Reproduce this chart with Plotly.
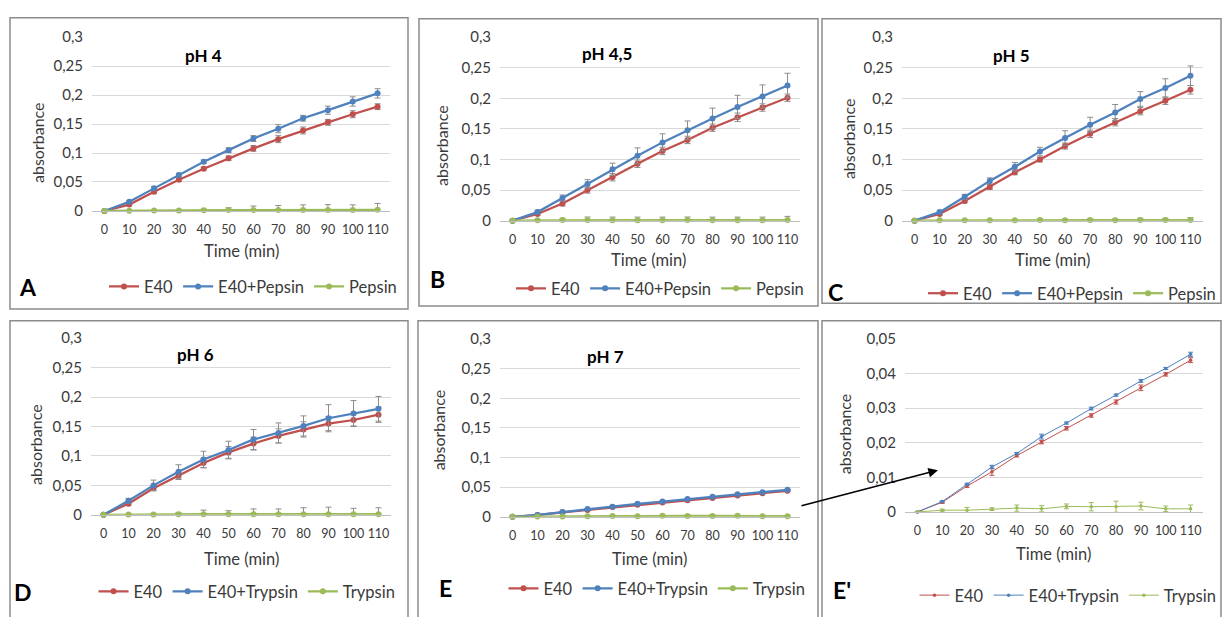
import plotly.graph_objects as go

# ---------------- data ----------------
time = [0, 10, 20, 30, 40, 50, 60, 70, 80, 90, 100, 110]
x_ticktext = ["0", "10", "20", "30", "40", "50", "60", "70", "80", "90", "100", "110"]

y_tickvals_main = [0, 0.05, 0.1, 0.15, 0.2, 0.25, 0.3]
y_ticktext_main = ["0", "0,05", "0,1", "0,15", "0,2", "0,25", "0,3"]
y_tickvals_zoom = [0, 0.01, 0.02, 0.03, 0.04, 0.05]
y_ticktext_zoom = ["0", "0,01", "0,02", "0,03", "0,04", "0,05"]

# pH 4
A_e40 = [0, 0.011, 0.033, 0.054, 0.073, 0.091, 0.108, 0.124, 0.139, 0.153, 0.167, 0.180]
A_e40_err = [0, 0.002, 0.003, 0.003, 0.003, 0.004, 0.005, 0.006, 0.006, 0.005, 0.006, 0.005]
A_enzmix = [0, 0.016, 0.039, 0.062, 0.085, 0.105, 0.125, 0.142, 0.160, 0.174, 0.189, 0.203]
A_enzmix_err = [0, 0.002, 0.003, 0.003, 0.003, 0.004, 0.005, 0.007, 0.005, 0.007, 0.008, 0.008]
A_enz = [0, 0.0005, 0.0008, 0.001, 0.0012, 0.0015, 0.0015, 0.0015, 0.0015, 0.0018, 0.0015, 0.002]
A_enz_err = [0, 0, 0.001, 0.001, 0.002, 0.004, 0.007, 0.008, 0.009, 0.009, 0.009, 0.011]

# pH 4,5
B_e40 = [0, 0.011, 0.028, 0.050, 0.071, 0.093, 0.114, 0.132, 0.152, 0.169, 0.185, 0.201]
B_e40_err = [0, 0.002, 0.004, 0.005, 0.006, 0.006, 0.006, 0.006, 0.006, 0.007, 0.006, 0.006]
B_enzmix = [0, 0.014, 0.037, 0.060, 0.084, 0.106, 0.128, 0.148, 0.167, 0.186, 0.203, 0.221]
B_enzmix_err = [0, 0.003, 0.005, 0.007, 0.010, 0.013, 0.014, 0.015, 0.017, 0.019, 0.019, 0.020]
B_enz = [0, 0.0005, 0.001, 0.001, 0.0008, 0.0008, 0.0008, 0.001, 0.0008, 0.0008, 0.0008, 0.001]
B_enz_err = [0, 0.001, 0.003, 0.005, 0.005, 0.005, 0.005, 0.005, 0.005, 0.005, 0.005, 0.006]

# pH 5
C_e40 = [0, 0.011, 0.032, 0.055, 0.079, 0.100, 0.122, 0.142, 0.161, 0.179, 0.196, 0.214]
C_e40_err = [0, 0.002, 0.003, 0.004, 0.004, 0.004, 0.005, 0.006, 0.006, 0.006, 0.006, 0.007]
C_enzmix = [0, 0.014, 0.039, 0.065, 0.088, 0.113, 0.135, 0.157, 0.177, 0.199, 0.217, 0.237]
C_enzmix_err = [0, 0.002, 0.004, 0.005, 0.007, 0.007, 0.012, 0.012, 0.013, 0.012, 0.015, 0.016]
C_enz = [0, 0.0005, 0.0005, 0.0005, 0.0005, 0.001, 0.0005, 0.001, 0.0008, 0.001, 0.001, 0.001]
C_enz_err = [0, 0, 0.001, 0.001, 0.001, 0.002, 0.002, 0.002, 0.002, 0.003, 0.003, 0.004]

# pH 6
D_e40 = [0, 0.019, 0.045, 0.066, 0.088, 0.106, 0.121, 0.134, 0.145, 0.155, 0.161, 0.170]
D_e40_err = [0, 0.003, 0.004, 0.006, 0.008, 0.010, 0.011, 0.012, 0.013, 0.012, 0.010, 0.013]
D_enzmix = [0, 0.024, 0.050, 0.073, 0.094, 0.110, 0.128, 0.139, 0.151, 0.164, 0.172, 0.180]
D_enzmix_err = [0, 0.004, 0.009, 0.012, 0.014, 0.015, 0.017, 0.017, 0.017, 0.023, 0.022, 0.021]
D_enz = [0, 0.0005, 0.0005, 0.001, 0.001, 0.001, 0.001, 0.001, 0.001, 0.001, 0.001, 0.001]
D_enz_err = [0, 0, 0.001, 0.003, 0.007, 0.006, 0.009, 0.009, 0.011, 0.012, 0.010, 0.011]

# pH 7 (also shown enlarged in E')
E_e40 = [0, 0.0028, 0.0075, 0.0116, 0.0163, 0.0202, 0.0242, 0.0279, 0.0318, 0.0359, 0.0398, 0.0439]
E_e40_err = [0, 0.0003, 0.0004, 0.0010, 0.0004, 0.0005, 0.0005, 0.0005, 0.0006, 0.0008, 0.0005, 0.0007]
E_enzmix = [0, 0.0030, 0.0080, 0.0130, 0.0169, 0.0218, 0.0257, 0.0299, 0.0338, 0.0379, 0.0415, 0.0456]
E_enzmix_err = [0, 0.0002, 0.0003, 0.0005, 0.0003, 0.0007, 0.0003, 0.0004, 0.0003, 0.0004, 0.0003, 0.0006]
E_enz = [0, 0.0005, 0.0005, 0.0008, 0.0011, 0.0009, 0.0016, 0.0015, 0.0015, 0.0017, 0.0009, 0.0009]
E_enz_err = [0, 0.0003, 0.0008, 0.0004, 0.0009, 0.0009, 0.0007, 0.0012, 0.0016, 0.0011, 0.0008, 0.0011]

# ---------------- styling / layout ----------------
W, H = 1224, 617
RED, BLUE, GREEN = "#C0504D", "#4F81BD", "#9BBB59"
ERRC = "#8C8C8C"
TXT = "#3A3A3A"
FONT = "Lato, Carlito, 'Liberation Sans', sans-serif"


def fx(p):
    return p / W


def fy(p):
    return 1 - p / H


panels = [
    dict(letter="A", title="pH 4", enz="Pepsin",
         data=(A_e40, A_e40_err, A_enzmix, A_enzmix_err, A_enz, A_enz_err),
         plot=(92, 390, 28, 207), box=(10, 408, 8, 308), zoom=False,
         title_pos=(203, 47), xt=(241, 248), yt=(37, 137), leg=(253, 285), let=(28, 285)),
    dict(letter="B", title="pH 4,5", enz="Pepsin",
         data=(B_e40, B_e40_err, B_enzmix, B_enzmix_err, B_enz, B_enz_err),
         plot=(500, 800, 28, 217), box=(419, 818, 9, 305), zoom=False,
         title_pos=(607, 45), xt=(648, 257), yt=(442, 140), leg=(660, 287), let=(437, 277)),
    dict(letter="C", title="pH 5", enz="Pepsin",
         data=(C_e40, C_e40_err, C_enzmix, C_enzmix_err, C_enz, C_enz_err),
         plot=(902, 1203, 28, 217), box=(822, 1221, 9, 302), zoom=False,
         title_pos=(1012, 47), xt=(1052, 258), yt=(848, 133), leg=(1072, 292), let=(835, 290)),
    dict(letter="D", title="pH 6", enz="Trypsin",
         data=(D_e40, D_e40_err, D_enzmix, D_enzmix_err, D_enz, D_enz_err),
         plot=(91, 391, 338, 520), box=(10, 408, 320, 630), zoom=False,
         title_pos=(195, 355), xt=(241, 565), yt=(36, 448), leg=(247, 599), let=(23, 599)),
    dict(letter="E", title="pH 7", enz="Trypsin",
         data=(E_e40, E_e40_err, E_enzmix, E_enzmix_err, E_enz, E_enz_err),
         plot=(500, 800, 339, 522), box=(418, 818, 320, 630), zoom=False,
         title_pos=(605, 357), xt=(649, 565), yt=(438, 433), leg=(657, 596), let=(445, 595)),
    dict(letter="E'", title=None, enz="Trypsin",
         data=(E_e40, E_e40_err, E_enzmix, E_enzmix_err, E_enz, E_enz_err),
         plot=(905, 1203, 339, 517), box=(822, 1221, 320, 630), zoom=True,
         title_pos=None, xt=(1053, 560), yt=(844, 437), leg=(1068, 603), let=(842, 597)),
]

fig = go.Figure()
layout = dict(
    width=W, height=H, margin=dict(l=0, r=0, t=0, b=0),
    paper_bgcolor="white", plot_bgcolor="white",
    font=dict(family=FONT, color=TXT), showlegend=True,
    shapes=[], annotations=[],
)

for i, p in enumerate(panels, start=1):
    sfx = "" if i == 1 else str(i)
    xa, ya = "x" + sfx, "y" + sfx
    lg = "legend" + sfx
    e40, e40e, mix, mixe, enz, enze = p["data"]
    zoom = p["zoom"]
    lw = 1 if zoom else 2.25
    ms = 3.5 if zoom else 6
    names = ["E40", "E40+" + p["enz"], p["enz"]]
    cols = [RED, BLUE, GREEN]
    ys = [e40, mix, enz]
    errs = [e40e, mixe, enze]
    for k in range(3):
        if zoom:
            err = dict(type="data", array=errs[k], color=cols[k], thickness=1, width=2.5)
        elif k == 2:
            err = dict(type="data", symmetric=False, array=errs[k],
                       arrayminus=[0] * len(errs[k]), color=ERRC, thickness=1, width=3)
        else:
            err = dict(type="data", array=errs[k], color=ERRC, thickness=1, width=3)
        fig.add_trace(go.Scatter(
            x=time, y=ys[k], name=names[k], mode="lines+markers",
            line=dict(color=cols[k], width=lw),
            marker=dict(color=cols[k], size=ms, symbol="circle"),
            error_y=err, xaxis=xa, yaxis=ya, legend=lg, cliponaxis=False,
        ))

    x0, x1, y0, y1 = p["plot"]
    layout["xaxis" + sfx] = dict(
        domain=[fx(x0), fx(x1)], range=[-5, 115], anchor=ya,
        tickvals=time, ticktext=x_ticktext, showgrid=False, zeroline=False,
        showline=True, linecolor="#BFBFBF", linewidth=1, ticks="", tickangle=0,
        tickfont=dict(size=12.5, color=TXT, family=FONT), ticklabelstandoff=7,
        fixedrange=True,
    )
    layout["yaxis" + sfx] = dict(
        domain=[fy(y1), fy(y0)], range=[0, 0.05] if zoom else [0, 0.3], anchor=xa,
        tickvals=y_tickvals_zoom if zoom else y_tickvals_main,
        ticktext=y_ticktext_zoom if zoom else y_ticktext_main,
        showgrid=True, gridcolor="#D9D9D9", gridwidth=1, zeroline=False,
        showline=False, ticks="", tickfont=dict(size=15, color=TXT, family=FONT),
        ticklabelstandoff=8, fixedrange=True,
    )
    cx, cy = p["leg"]
    layout[lg] = dict(
        orientation="h", x=fx(cx), xanchor="center", y=fy(cy), yanchor="middle",
        bgcolor="rgba(0,0,0,0)", borderwidth=0, font=dict(size=16.5, color=TXT, family=FONT),
        itemwidth=30, tracegroupgap=0,
    )
    bx0, bx1, by0, by1 = p["box"]
    layout["shapes"].append(dict(
        type="rect", xref="paper", yref="paper",
        x0=fx(bx0), x1=fx(bx1), y0=fy(by1), y1=fy(by0),
        line=dict(color="#8C8C8C", width=1.5), fillcolor="rgba(0,0,0,0)", layer="below",
    ))
    if p["title"]:
        tx, ty = p["title_pos"]
        layout["annotations"].append(dict(
            text="<b>" + p["title"] + "</b>", xref="paper", yref="paper",
            x=fx(tx), y=fy(ty), xanchor="center", yanchor="middle", showarrow=False,
            font=dict(size=17, color="#000000", family=FONT),
        ))
    tx, ty = p["xt"]
    layout["annotations"].append(dict(
        text="Time (min)", xref="paper", yref="paper", x=fx(tx), y=fy(ty),
        xanchor="center", yanchor="middle", showarrow=False,
        font=dict(size=16.5, color=TXT, family=FONT),
    ))
    tx, ty = p["yt"]
    layout["annotations"].append(dict(
        text="absorbance", xref="paper", yref="paper", x=fx(tx), y=fy(ty),
        xanchor="center", yanchor="middle", showarrow=False, textangle=-90,
        font=dict(size=16, color=TXT, family=FONT),
    ))
    tx, ty = p["let"]
    layout["annotations"].append(dict(
        text="<b>" + p["letter"] + "</b>", xref="paper", yref="paper", x=fx(tx), y=fy(ty),
        xanchor="center", yanchor="middle", showarrow=False,
        font=dict(size=23, color="#000000", family=FONT),
    ))

# arrow from pH 7 panel to the enlarged panel E'
layout["annotations"].append(dict(
    text="", xref="paper", yref="paper", x=fx(938), y=fy(474),
    ax=800 - 938, ay=510 - 474, axref="pixel", ayref="pixel",
    showarrow=True, arrowhead=2, arrowsize=1.2, arrowwidth=1.6, arrowcolor="#000000",
))

fig.update_layout(**layout)
fig.write_html("out.html")
